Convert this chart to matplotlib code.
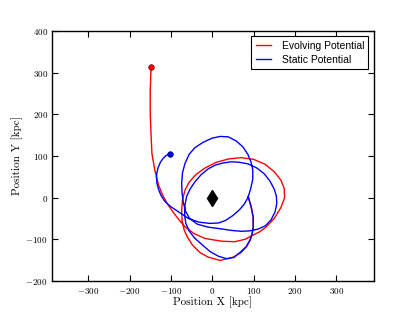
import numpy as np
import matplotlib
matplotlib.use("Agg")
import matplotlib.pyplot as plt

#---------------------FONT and other graphics------------------------
matplotlib.rc('font', family='serif', serif=['cmr10'], size=7)
matplotlib.rc('mathtext', fontset='cm')
matplotlib.rcParams['axes.formatter.use_mathtext'] = True
matplotlib.rc('axes', linewidth=1.0)
matplotlib.rc('xtick', direction='in', top=True, labelsize=6.5)
matplotlib.rc('ytick', direction='in', right=True, labelsize=6.5)
matplotlib.rc('xtick.major', size=4, width=0.8, pad=4)
matplotlib.rc('ytick.major', size=4, width=0.8, pad=3)

#---------------------DATA------------------------
# evolving potential orbit (kpc), from initial point to present
evo_x = [-148, -150, -150, -148, -146, -139, -130, -120, -108, -94, -80, -66,
         -45, -18, 5, 25, 55, 80, 95, 115, 130, 150, 166, 175, 174, 166,
         150, 128, 100, 70, 40, 10, -18, -40, -56, -66, -72, -74, -73,
         -68, -60, -48, -30, -10, 19, 51, 70, 83, 93, 99, 99, 94, 87]
evo_y = [315, 260, 200, 150, 106, 66, 30, 6, -16, -36, -54, -70,
         -86, -98, -102, -105, -106, -100, -92, -82, -71, -50, -24, 0, 22, 42,
         62, 80, 92, 96, 93, 85, 71, 55, 37, 18, -5, -30, -55,
         -78, -95, -114, -132, -143, -151, -143, -132, -118, -100, -72, -47, -22, 2]

# static potential orbit (kpc)
sta_x = [-102, -112, -120, -126, -131, -134, -135, -134, -130, -124, -114, -100,
         -82, -58, -32, -6, 15, 32, 50, 66, 78, 87, 93, 98, 98, 94, 86, 74,
         58, 39, 19, 0, -22, -42, -56, -66, -72, -74, -73, -70, -65, -55,
         -36, -10, 20, 47, 70, 90, 110, 128, 142, 152, 156, 155, 150, 140,
         126, 108, 87, 65, 45, 25, 7, -10, -27, -42, -54, -62, -66, -67,
         -64, -56, -43, -26, -5, 15, 35, 52, 67, 82, 91, 97, 99, 99, 94, 87]
sta_y = [106, 101, 93, 84, 72, 60, 48, 35, 20, 5, -10, -22,
         -34, -50, -59, -62, -61, -55, -43, -29, -15, 2, 22, 44, 66, 85, 104, 122,
         136, 146, 147, 143, 133, 120, 104, 82, 60, 34, 10, -12, -32, -50,
         -64, -71, -75, -79, -81, -80, -76, -68, -54, -34, -14, 4, 20, 39,
         57, 71, 81, 85, 86, 83, 78, 69, 55, 38, 20, 3, -18, -42,
         -62, -80, -97, -112, -130, -141, -147, -144, -132, -118, -102, -86, -70, -47, -22, 2]

host_x = [0]
host_y = [0]

#------------Figure Layout--------------
fig = plt.figure(figsize=(4.15, 3.12), dpi=100)
fig.patch.set_facecolor('white')
ax = fig.add_subplot(111)
fig.subplots_adjust(left=0.125, bottom=0.1, right=0.9, top=0.9)

ax.plot(evo_x, evo_y, color='red', linewidth=1.0, label='Evolving Potential')
ax.plot(sta_x, sta_y, color='blue', linewidth=1.0, label='Static Potential')
ax.plot(evo_x[0], evo_y[0], 'o', color='red', markersize=4, markeredgecolor='#550000', markeredgewidth=0.5)
ax.plot(sta_x[0], sta_y[0], 'o', color='blue', markersize=4, markeredgecolor='#000055', markeredgewidth=0.5)
ax.plot(host_x, host_y, 'd', color='black', markersize=8)

ax.set_xlim(-388, 390)
ax.set_ylim(-200, 400)
ax.set_xticks([-300, -200, -100, 0, 100, 200, 300])
ax.set_yticks([-200, -100, 0, 100, 200, 300, 400])
ax.set_xlabel(r'Position X [kpc]', size=8, labelpad=0.5)
ax.set_ylabel(r'Position Y [kpc]', size=8, labelpad=2)

leg = ax.legend(loc='upper right', prop={'family': 'Liberation Sans', 'size': 7.5},
                fancybox=False, framealpha=1, edgecolor='black',
                handlelength=1.5, handletextpad=1.0, borderaxespad=0.5,
                labelspacing=0.4)
leg.get_frame().set_linewidth(0.8)

fig.savefig('out.png', dpi=100)
